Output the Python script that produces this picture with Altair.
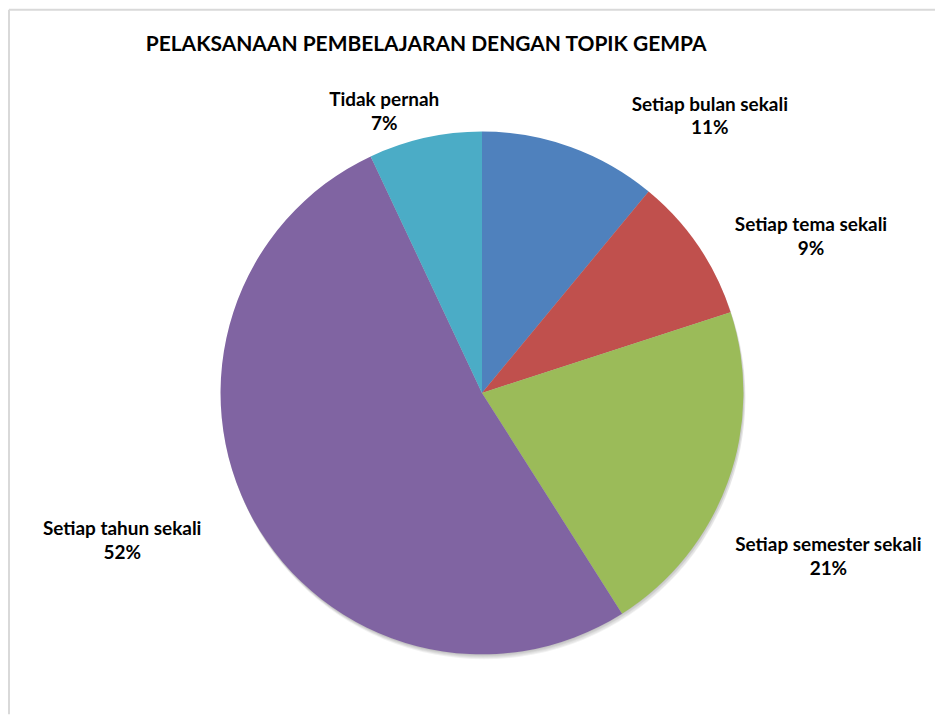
import math
import altair as alt
import pandas as pd

# ---- data ----
categories = ["Setiap bulan sekali", "Setiap tema sekali", "Setiap semester sekali",
              "Setiap tahun sekali", "Tidak pernah"]
percent = [11, 9, 21, 52, 7]
colors = ["#4F81BD", "#C0504D", "#9BBB59", "#8064A2", "#4BACC6"]
title_text = "PELAKSANAAN PEMBELAJARAN DENGAN TOPIK GEMPA"

# ---- layout (label placement, Excel "best fit" style) ----
label_shift_deg = [19.7, 8.8, 5.5, 6.4, -6.6]
label_dist = [359, 365, 384, 390, 298]
CX, CY, R = 474, 384, 262
FONT = "Lato"
W, H = 928, 706

df = pd.DataFrame({"cat": categories, "value": percent, "idx": list(range(len(categories)))})

total = sum(percent)
cum = 0
rows = []
for c, v, s, d in zip(categories, percent, label_shift_deg, label_dist):
    mid = (cum + v / 2) / total * 360
    cum += v
    rows.append({"cat": c, "pct": f"{v}%", "theta": math.radians(mid + s), "dist": d})
lab = pd.DataFrame(rows)

color_scale = alt.Scale(domain=categories, range=colors)

# soft shadow under the pie (offset copies)
shadow_df = pd.DataFrame({"cy": [CY + 1, CY + 2, CY + 3, CY + 4, CY + 5],
                          "cx": [CX, CX + 1, CX + 1, CX + 2, CX + 2]})
shadow = alt.Chart(shadow_df).mark_arc(color="#000000", opacity=0.05, radius=R).encode(
    x=alt.X("cx:Q", scale=None),
    y=alt.Y("cy:Q", scale=None),
    theta=alt.value(0),
    theta2=alt.value(2 * math.pi),
)

pie = alt.Chart(df).mark_arc(x=CX, y=CY, radius=R).encode(
    theta=alt.Theta("value:Q", stack=True),
    color=alt.Color("cat:N", scale=color_scale, legend=None),
    order=alt.Order("idx:Q"),
)

labels = alt.Chart(lab).transform_calculate(
    txt="[datum.cat, datum.pct]"
).mark_text(
    x=CX, y=CY, font=FONT, fontWeight="bold", fontSize=19, lineHeight=24, dy=-12,
    align="center", baseline="middle", color="#000000"
).encode(
    theta=alt.Theta("theta:Q", scale=None),
    radius=alt.Radius("dist:Q", scale=None),
    text="txt:N",
)

title = alt.Chart(pd.DataFrame({"t": [title_text]})).mark_text(
    x=418, y=35, font=FONT, fontWeight="bold", fontSize=21, align="center",
    baseline="middle", color="#000000"
).encode(text="t:N")

# chart border (top and left edges visible in the frame)
border = alt.Chart(pd.DataFrame({"x": [0]})).mark_rule(color="#d9d9d9", strokeWidth=2).encode(
    x=alt.value(0), x2=alt.value(W), y=alt.value(0)
)
border_l = alt.Chart(pd.DataFrame({"x": [0]})).mark_rule(color="#d9d9d9", strokeWidth=2).encode(
    x=alt.value(0), y=alt.value(0), y2=alt.value(H)
)

chart = alt.layer(border, border_l, shadow, pie, labels, title).properties(
    width=W, height=H, padding=0
).configure_view(stroke=None)

chart.save("out.html", embed_options={"renderer": "svg", "actions": False})
